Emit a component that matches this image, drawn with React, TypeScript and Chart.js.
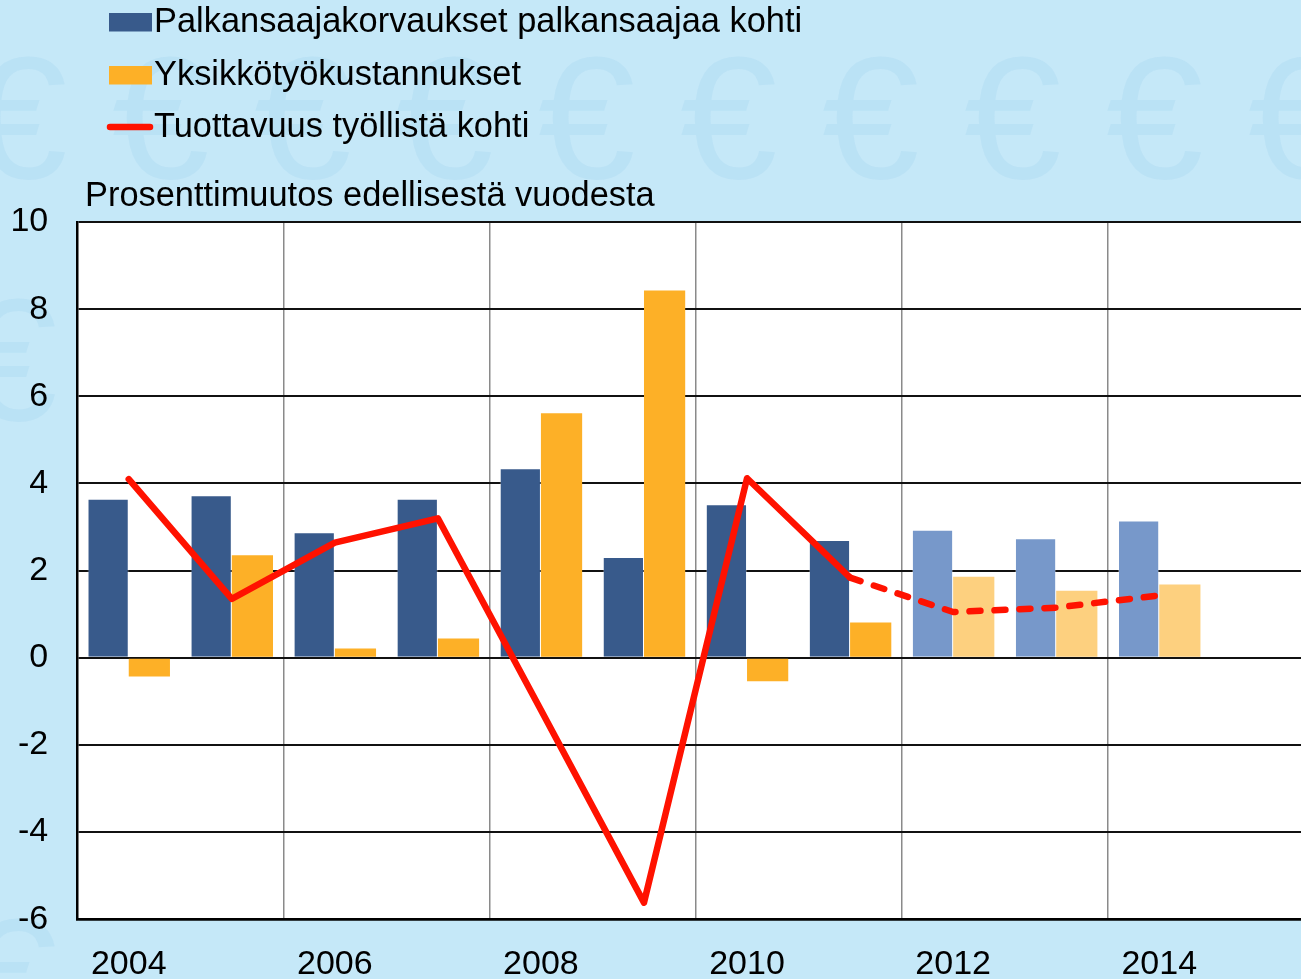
import React, { useEffect, useRef } from 'react';
import { Chart, registerables } from 'chart.js';

Chart.register(...registerables);

// ---- Data ----
const years = ['2004', '2005', '2006', '2007', '2008', '2009', '2010', '2011', '2012', '2013', '2014', '2015'];
const compensationPerEmployee = [3.65, 3.73, 2.88, 3.65, 4.35, 2.31, 3.52, 2.70, 2.94, 2.74, 3.15];
const unitLabourCosts = [-0.43, 2.35, 0.21, 0.44, 5.61, 8.43, -0.54, 0.81, 1.86, 1.54, 1.68];
const productivityPerEmployed = [4.1, 1.35, 2.64, 3.2, -1.2, -5.62, 4.12, 1.84, 1.05, 1.15, 1.43];
const forecastFromIndex = 8; // 2012 onwards: forecast (lighter bars)
const dashedFromIndex = 7; // line dashed from 2011 onwards
const yMin = -6;
const yMax = 10;
const yStep = 2;

const seriesLabels = [
  'Palkansaajakorvaukset palkansaajaa kohti',
  'Yksikkötyökustannukset',
  'Tuottavuus työllistä kohti',
];
const axisTitle = 'Prosenttimuutos edellisestä vuodesta';

// ---- Styles ----
const FONT = '"Liberation Sans", Arial, Helvetica, sans-serif';
const DARK_BLUE = '#385a8b';
const LIGHT_BLUE = '#7798ca';
const ORANGE = '#fdb027';
const LIGHT_ORANGE = '#fdd07f';
const RED = '#ff1200';
const BG = '#c5e8f8';

const decorPlugin = {
  id: 'decor',
  beforeDraw(chart: any) {
    const { ctx, chartArea: ca, width, height } = chart;
    ctx.save();
    ctx.fillStyle = BG;
    ctx.fillRect(0, 0, width, height);
    // faint euro watermark
    ctx.font = `175px ${FONT}`;
    ctx.fillStyle = 'rgba(150, 205, 235, 0.22)';
    ctx.textBaseline = 'alphabetic';
    for (let x = -30; x < width; x += 142) ctx.fillText('€', x, 178);
    ctx.fillText('€', -40, 420);
    ctx.fillText('€', -40, 1040);
    // white plot area
    ctx.fillStyle = '#ffffff';
    ctx.fillRect(ca.left, ca.top, ca.right - ca.left, ca.bottom - ca.top);
    ctx.restore();
  },
  afterDraw(chart: any) {
    const { ctx } = chart;
    const ds = chart.data.datasets;
    ctx.save();
    ctx.fillStyle = '#000';
    ctx.textBaseline = 'alphabetic';
    ctx.textAlign = 'left';
    ctx.font = `34.4px ${FONT}`;
    const baselines = [32, 85, 137];
    // bar legend boxes
    [0, 1].forEach((i) => {
      const col = Array.isArray(ds[i].backgroundColor) ? ds[i].backgroundColor[0] : ds[i].backgroundColor;
      ctx.fillStyle = col;
      ctx.fillRect(109, baselines[i] - 19, 43, 18.5);
      ctx.fillStyle = '#000';
      ctx.fillText(ds[i].label, 154, baselines[i]);
    });
    // line legend
    ctx.strokeStyle = ds[2].borderColor;
    ctx.lineWidth = 6.5;
    ctx.lineCap = 'round';
    ctx.beginPath();
    ctx.moveTo(110, baselines[2] - 10);
    ctx.lineTo(150, baselines[2] - 10);
    ctx.stroke();
    ctx.fillText(ds[2].label, 154, baselines[2]);
    // axis title
    ctx.fillText(axisTitle, 85, 206);
    ctx.restore();
  },
};

export default function App() {
  const canvasRef = useRef<HTMLCanvasElement | null>(null);

  useEffect(() => {
    const canvas = canvasRef.current;
    if (!canvas) return;
    const barColors = (dark: string, light: string) =>
      compensationPerEmployee.map((_, i) => (i >= forecastFromIndex ? light : dark));

    const chart = new Chart(canvas, {
      type: 'bar',
      data: {
        labels: years,
        datasets: [
          {
            type: 'bar',
            label: seriesLabels[0],
            data: compensationPerEmployee,
            backgroundColor: barColors(DARK_BLUE, LIGHT_BLUE),
            borderColor: 'rgba(255,255,255,0.3)',
            borderWidth: 1,
            categoryPercentage: 0.8,
            barPercentage: 1.0,
            order: 2,
          },
          {
            type: 'bar',
            label: seriesLabels[1],
            data: unitLabourCosts,
            backgroundColor: barColors(ORANGE, LIGHT_ORANGE),
            borderWidth: 0,
            categoryPercentage: 0.8,
            barPercentage: 1.0,
            order: 2,
          },
          {
            type: 'line',
            label: seriesLabels[2],
            data: productivityPerEmployed,
            borderColor: RED,
            backgroundColor: RED,
            borderWidth: 6.5,
            pointRadius: 0,
            pointHoverRadius: 0,
            tension: 0,
            fill: false,
            borderJoinStyle: 'round',
            borderCapStyle: 'round',
            segment: {
              borderDash: (ctx: any) => (ctx.p0DataIndex >= dashedFromIndex ? [11, 14] : undefined),
            },
            order: 0,
          } as any,
        ],
      },
      options: {
        responsive: false,
        animation: false,
        events: [],
        layout: { padding: { top: 222, left: -18.6, right: 6.2, bottom: -28 } },
        plugins: {
          legend: { display: false },
          title: { display: false },
          tooltip: { enabled: false },
        },
        scales: {
          x: {
            offset: true,
            grid: {
              offset: true,
              drawTicks: false,
              color: (ctx: any) => (ctx.index % 2 === 0 && ctx.index > 0 ? '#8a8a8a' : 'rgba(0,0,0,0)'),
              lineWidth: 1.5,
            },
            border: { display: true, color: '#000', width: 2.5 },
            ticks: {
              autoSkip: false,
              maxRotation: 0,
              padding: 25,
              color: '#000',
              font: { family: FONT, size: 34 },
              callback: (_v: any, i: number) => (i % 2 === 0 ? years[i] : ''),
            },
          },
          y: {
            min: yMin,
            max: yMax,
            grid: {
              drawTicks: false,
              color: '#111111',
              lineWidth: (ctx: any) => (ctx.tick && ctx.tick.value === yMin ? 2.5 : 2),
            },
            border: { display: true, color: '#000', width: 2.5 },
            ticks: {
              stepSize: yStep,
              padding: 29,
              color: '#000',
              font: { family: FONT, size: 34 },
              callback: (v: any) => String(v),
            },
          },
        },
      },
      plugins: [decorPlugin],
    });
    return () => chart.destroy();
  }, []);

  return (
    <div
      style={{
        position: 'fixed',
        left: 0,
        top: 0,
        width: 1301,
        height: 979,
        overflow: 'hidden',
        background: BG,
      }}
    >
      <canvas ref={canvasRef} width={1320} height={982} style={{ width: 1320, height: 982, display: 'block' }} />
    </div>
  );
}
